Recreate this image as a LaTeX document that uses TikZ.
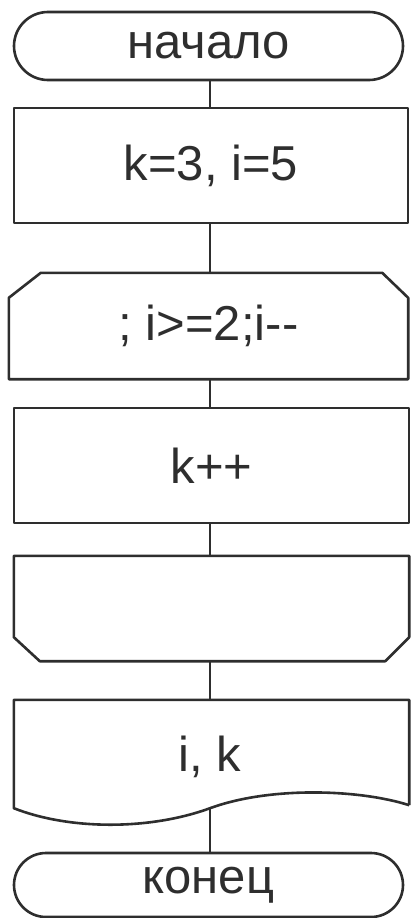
\documentclass[tikz,border=0pt]{standalone}
\usepackage{fontspec}
\setmainfont{Liberation Sans}
\usetikzlibrary{shapes.misc}
\definecolor{ink}{HTML}{2E2E2E}
\tikzset{
  outline/.style={draw=ink, line width=2.6pt, line join=round},
  lbl/.style={font=\fontsize{49}{55}\selectfont, text=ink, inner sep=0pt},
  term/.style={outline, rounded rectangle, lbl},
  procbox/.style={outline, rectangle, lbl},
  slot/.style={rectangle, lbl},
  link/.style={draw=ink, line width=2.6pt}
}
\begin{document}
\begin{tikzpicture}[x=1pt,y=-1pt]
\useasboundingbox (0,0) rectangle (410,918);
\fill[white] (0,0) rectangle (410,918);

\node[term, minimum width=389pt, minimum height=68pt] (start) at (208.5,46) {начало};
\node[procbox, minimum width=394pt, minimum height=115pt] (init) at (211,165.5) {k=3, i=5};
\node[slot, minimum width=399pt, minimum height=106pt] (loopa) at (208.5,326) {; i>=2;i-{}-};
\node[procbox, minimum width=395pt, minimum height=115pt] (body) at (211.5,465.5) {k++};
\node[slot, minimum width=395pt, minimum height=105pt] (loopb) at (211.5,608.5) {};
\node[slot, minimum width=395pt, minimum height=108pt] (out) at (211.5,754) {};
\node[lbl] (outtxt) at (210,757) {i, k};
\node[term, minimum width=389pt, minimum height=64pt] (stop) at (208.5,885) {конец};

% loop start: cut top corners
\draw[outline] ([yshift=-25pt]loopa.north west) -- ([xshift=32pt]loopa.north west)
  -- ([xshift=-26pt]loopa.north east) -- ([yshift=-25pt]loopa.north east)
  -- (loopa.south east) -- (loopa.south west) -- cycle;
% loop end: cut bottom corners
\draw[outline] (loopb.north west) -- (loopb.north east)
  -- ([yshift=24pt]loopb.south east) -- ([xshift=-24pt]loopb.south east)
  -- ([xshift=26pt]loopb.south west) -- ([yshift=24pt]loopb.south west) -- cycle;
% document
\draw[outline] ([yshift=3pt]out.south east) -- (out.north east) -- (out.north west)
  -- (out.south west)
  .. controls +(56,22) and +(-60,22) .. ([xshift=-1.5pt]out.south)
  .. controls +(60,-22) and +(-50,-16) .. ([yshift=3pt]out.south east);

% connectors
\draw[link] (start.south -| 210,0) -- (init.north -| 210,0);
\draw[link] (init.south -| 210,0) -- (loopa.north -| 210,0);
\draw[link] (loopa.south -| 210,0) -- (body.north -| 210,0);
\draw[link] (body.south -| 210,0) -- (loopb.north -| 210,0);
\draw[link] (loopb.south -| 210,0) -- (out.north -| 210,0);
\draw[link] (out.south -| 210,0) -- (stop.north -| 210,0);
\end{tikzpicture}
\end{document}
